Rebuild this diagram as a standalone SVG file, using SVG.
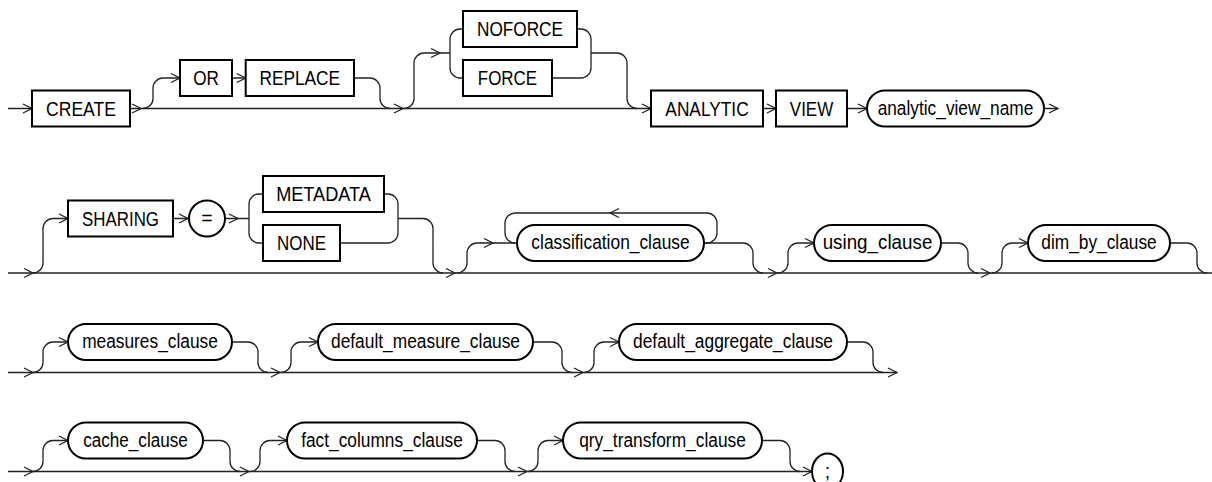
<svg xmlns="http://www.w3.org/2000/svg" xmlns:xlink="http://www.w3.org/1999/xlink" width="1212" height="482" viewBox="0 0 1212 482">
<style>
.ln{fill:none;stroke:#222;stroke-width:1.3}
.bx{fill:#fff;stroke:#000;stroke-width:2}
.t{font-family:"Liberation Sans",Arial,sans-serif;font-size:19.5px;fill:#000;text-anchor:middle}
</style>
<defs>
<path id="ah" d="M-9,-4.5 L0,0 L-9,4.5" fill="none" stroke="#222" stroke-width="1.3"/>
</defs>
<rect width="1212" height="482" fill="#fff"/>
<g id="connectors">
<!-- row 1 -->
<path class="ln" d="M8,108.5 H32 M130,108.5 H651"/>
<path class="ln" d="M143,108.5 A10,10 0 0 0 153,98.5 V88 A10,10 0 0 1 163,78 H180 M232,78 H245.7 M354,78 H370 A10,10 0 0 1 380,88 V98.5 A10,10 0 0 0 390,108.5"/>
<path class="ln" d="M404,108.5 A10,10 0 0 0 414,98.5 V63 A10,10 0 0 1 424,53 H450 M450,53 V39 A10,10 0 0 1 460,29 H463 M450,53 V68 A10,10 0 0 0 460,78 H463"/>
<path class="ln" d="M577,29 H581 A10,10 0 0 1 591,39 V68 A10,10 0 0 1 581,78 H552 M591,53 H617 A10,10 0 0 1 627,63 V98.5 A10,10 0 0 0 637,108.5"/>
<path class="ln" d="M763,108.5 H776 M847,108.5 H867 M1044,108.5 H1058"/>
<use href="#ah" x="32" y="108.5"/><use href="#ah" x="141" y="108.5"/><use href="#ah" x="180" y="78"/><use href="#ah" x="245.7" y="78"/>
<use href="#ah" x="403" y="108.5"/><use href="#ah" x="440" y="53"/><use href="#ah" x="651" y="108.5"/><use href="#ah" x="776" y="108.5"/>
<use href="#ah" x="867" y="108.5"/><use href="#ah" x="1058" y="108.5"/>
<!-- row 2 -->
<path class="ln" d="M8,273 H1212"/>
<path class="ln" d="M33,273 A10,10 0 0 0 43,263 V228.5 A10,10 0 0 1 53,218.5 H68 M173,218.5 H188 M226,218.5 H249 M249,218.5 V204 A10,10 0 0 1 259,194 H263 M249,218.5 V233 A10,10 0 0 0 259,243 H263"/>
<path class="ln" d="M384,194 H388 A10,10 0 0 1 398,204 V233 A10,10 0 0 1 388,243 H340 M398,218.5 H423 A10,10 0 0 1 433,228.5 V263 A10,10 0 0 0 443,273"/>
<path class="ln" d="M457,273 A10,10 0 0 0 467,263 V253 A10,10 0 0 1 477,243 H517"/>
<path class="ln" d="M704,243 H707 A10,10 0 0 0 717,233 V223 A10,10 0 0 0 707,213 H515 A10,10 0 0 0 505,223 V233 A10,10 0 0 0 515,243"/>
<path class="ln" d="M704,243 H743 A10,10 0 0 1 753,253 V263 A10,10 0 0 0 763,273"/>
<path class="ln" d="M778,273 A10,10 0 0 0 788,263 V253 A10,10 0 0 1 798,243 H814 M941,243 H958 A10,10 0 0 1 968,253 V263 A10,10 0 0 0 978,273"/>
<path class="ln" d="M992,273 A10,10 0 0 0 1002,263 V253 A10,10 0 0 1 1012,243 H1028 M1170,243 H1187 A10,10 0 0 1 1197,253 V263 A10,10 0 0 0 1207,273"/>
<use href="#ah" x="33" y="273"/><use href="#ah" x="68" y="218.5"/><use href="#ah" x="188" y="218.5"/><use href="#ah" x="238" y="218.5"/>
<use href="#ah" x="455" y="273"/><use href="#ah" x="493" y="243"/><use href="#ah" x="610" y="213" transform="rotate(180 610 213)"/>
<use href="#ah" x="777" y="273"/><use href="#ah" x="814" y="243"/><use href="#ah" x="990" y="273"/><use href="#ah" x="1028" y="243"/>
<!-- row 3 -->
<path class="ln" d="M8,372.5 H897"/>
<path class="ln" d="M33,372.5 A10,10 0 0 0 43,362.5 V352 A10,10 0 0 1 53,342 H68 M232,342 H248 A10,10 0 0 1 258,352 V362.5 A10,10 0 0 0 268,372.5"/>
<path class="ln" d="M281,372.5 A10,10 0 0 0 291,362.5 V352 A10,10 0 0 1 301,342 H318 M533,342 H552 A10,10 0 0 1 562,352 V362.5 A10,10 0 0 0 572,372.5"/>
<path class="ln" d="M584,372.5 A10,10 0 0 0 594,362.5 V352 A10,10 0 0 1 604,342 H619 M847,342 H863 A10,10 0 0 1 873,352 V362.5 A10,10 0 0 0 883,372.5"/>
<use href="#ah" x="33" y="372.5"/><use href="#ah" x="68" y="342"/><use href="#ah" x="280" y="372.5"/><use href="#ah" x="318" y="342"/>
<use href="#ah" x="583" y="372.5"/><use href="#ah" x="619" y="342"/><use href="#ah" x="897" y="372.5"/>
<!-- row 4 -->
<path class="ln" d="M8,471.5 H812"/>
<path class="ln" d="M33,471.5 A10,10 0 0 0 43,461.5 V450.5 A10,10 0 0 1 53,440.5 H68 M203,440.5 H220 A10,10 0 0 1 230,450.5 V461.5 A10,10 0 0 0 240,471.5"/>
<path class="ln" d="M250,471.5 A10,10 0 0 0 260,461.5 V450.5 A10,10 0 0 1 270,440.5 H287 M477,440.5 H495 A10,10 0 0 1 505,450.5 V461.5 A10,10 0 0 0 515,471.5"/>
<path class="ln" d="M528,471.5 A10,10 0 0 0 538,461.5 V450.5 A10,10 0 0 1 548,440.5 H563 M762,440.5 H780 A10,10 0 0 1 790,450.5 V461.5 A10,10 0 0 0 800,471.5"/>
<use href="#ah" x="33" y="471.5"/><use href="#ah" x="68" y="440.5"/><use href="#ah" x="249" y="471.5"/><use href="#ah" x="287" y="440.5"/>
<use href="#ah" x="527" y="471.5"/><use href="#ah" x="563" y="440.5"/><use href="#ah" x="812" y="471.5"/>
</g>
<g id="n-create"><rect class="bx" x="32" y="90.5" width="98" height="36"/><text class="t" x="81" y="115.5" textLength="70" lengthAdjust="spacingAndGlyphs">CREATE</text></g>
<g id="n-or"><rect class="bx" x="180" y="60" width="52" height="36"/><text class="t" x="206" y="85" textLength="25.7" lengthAdjust="spacingAndGlyphs">OR</text></g>
<g id="n-replace"><rect class="bx" x="245.7" y="60" width="108.3" height="36"/><text class="t" x="299.8" y="85" textLength="80.7" lengthAdjust="spacingAndGlyphs">REPLACE</text></g>
<g id="n-noforce"><rect class="bx" x="463" y="11" width="114" height="36"/><text class="t" x="520" y="36" textLength="86" lengthAdjust="spacingAndGlyphs">NOFORCE</text></g>
<g id="n-force"><rect class="bx" x="463" y="60" width="89" height="36"/><text class="t" x="507.5" y="85" textLength="59.3" lengthAdjust="spacingAndGlyphs">FORCE</text></g>
<g id="n-analytic"><rect class="bx" x="651" y="90.5" width="112" height="36"/><text class="t" x="707" y="115.5" textLength="83.3" lengthAdjust="spacingAndGlyphs">ANALYTIC</text></g>
<g id="n-view"><rect class="bx" x="776" y="90.5" width="71" height="36"/><text class="t" x="811.5" y="115.5" textLength="43.3" lengthAdjust="spacingAndGlyphs">VIEW</text></g>
<g id="n-analytic-view-name"><rect class="bx" x="867" y="90.5" width="177" height="36" rx="18"/><text class="t" x="955.5" y="114.5" textLength="155.7" lengthAdjust="spacingAndGlyphs">analytic_view_name</text></g>
<g id="n-sharing"><rect class="bx" x="68" y="200.5" width="105" height="36"/><text class="t" x="120.5" y="225.5" textLength="77" lengthAdjust="spacingAndGlyphs">SHARING</text></g>
<g id="n-eq"><circle class="bx" cx="207" cy="218.5" r="18"/><text class="t" x="207" y="225">=</text></g>
<g id="n-metadata"><rect class="bx" x="263" y="176" width="121" height="36"/><text class="t" x="323.5" y="201" textLength="94.7" lengthAdjust="spacingAndGlyphs">METADATA</text></g>
<g id="n-none"><rect class="bx" x="263" y="225" width="77" height="36"/><text class="t" x="301.5" y="250" textLength="49" lengthAdjust="spacingAndGlyphs">NONE</text></g>
<g id="n-classification"><rect class="bx" x="517" y="225" width="187" height="36" rx="18"/><text class="t" x="610.5" y="249" textLength="158.3" lengthAdjust="spacingAndGlyphs">classification_clause</text></g>
<g id="n-using"><rect class="bx" x="814" y="225" width="127" height="36" rx="18"/><text class="t" x="877.5" y="249" textLength="109.7" lengthAdjust="spacingAndGlyphs">using_clause</text></g>
<g id="n-dim-by"><rect class="bx" x="1028" y="225" width="142" height="36" rx="18"/><text class="t" x="1099" y="249" textLength="115.3" lengthAdjust="spacingAndGlyphs">dim_by_clause</text></g>
<g id="n-measures"><rect class="bx" x="68" y="324" width="164" height="36" rx="18"/><text class="t" x="150" y="348" textLength="135.7" lengthAdjust="spacingAndGlyphs">measures_clause</text></g>
<g id="n-default-measure"><rect class="bx" x="318" y="324" width="215" height="36" rx="18"/><text class="t" x="425.5" y="348" textLength="189" lengthAdjust="spacingAndGlyphs">default_measure_clause</text></g>
<g id="n-default-aggregate"><rect class="bx" x="619" y="324" width="228" height="36" rx="18"/><text class="t" x="733" y="348" textLength="200" lengthAdjust="spacingAndGlyphs">default_aggregate_clause</text></g>
<g id="n-cache"><rect class="bx" x="68" y="422.5" width="135" height="36" rx="18"/><text class="t" x="135.5" y="446.5" textLength="104.7" lengthAdjust="spacingAndGlyphs">cache_clause</text></g>
<g id="n-fact-columns"><rect class="bx" x="287" y="422.5" width="190" height="36" rx="18"/><text class="t" x="382" y="446.5" textLength="161.7" lengthAdjust="spacingAndGlyphs">fact_columns_clause</text></g>
<g id="n-qry-transform"><rect class="bx" x="563" y="422.5" width="199" height="36" rx="18"/><text class="t" x="662.5" y="446.5" textLength="166.7" lengthAdjust="spacingAndGlyphs">qry_transform_clause</text></g>
<g id="n-semicolon"><ellipse class="bx" cx="827.5" cy="471.5" rx="15.5" ry="18"/><text class="t" x="827.5" y="478">;</text></g>
</svg>
